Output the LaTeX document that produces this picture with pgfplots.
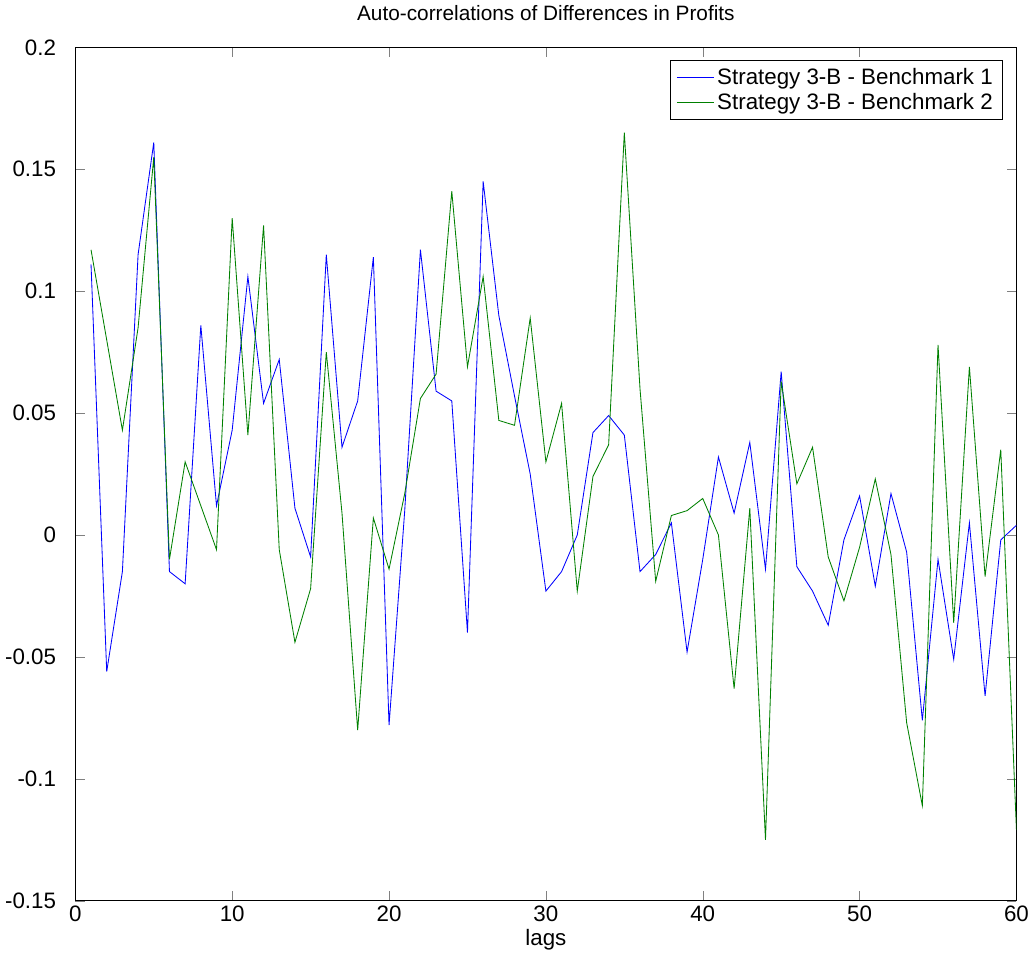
\documentclass[border=0pt]{standalone}
\usepackage{pgfplots}
\pgfplotsset{compat=1.18}
\usepackage{fontspec}
\setmainfont{Liberation Sans}
\begin{document}
\begin{tikzpicture}
\begin{axis}[scale only axis, width=611pt, height=554pt,
 xmin=0, xmax=60, ymin=-0.15, ymax=0.2,
 xtick={0,10,...,60}, ytick={-0.15,-0.1,...,0.2},
 yticklabels={-0.15,-0.1,-0.05,0,0.05,0.1,0.15,0.2},
 /pgf/number format/assume math mode=true,
 tick label style={font=\fontsize{14.5}{16}\selectfont},
 yticklabel style={xshift=-9pt},
 tick align=inside, ticklabel pos=left, xtick pos=both, ytick pos=both,
 major tick length=6pt,
 scaled y ticks=false,
 title={Auto-correlations of Differences in Profits},
 title style={font=\fontsize{13.5}{15}\selectfont, yshift=8pt},
 xlabel={lags}, xlabel style={font=\fontsize{14.5}{16}\selectfont, yshift=2pt},
 legend style={at={(0.985,0.985)}, anchor=north east, font=\fontsize{14.5}{16}\selectfont, draw=black, cells={anchor=west}, legend cell align=left, inner xsep=4pt, inner ysep=3pt},
 legend image post style={xscale=1.4},
 ]
\addplot[blue, line width=0.55pt] coordinates {
(1,0.111)(2,-0.056)(3,-0.015)(4,0.115)(5,0.161)(6,-0.015)(7,-0.020)(8,0.086)(9,0.012)(10,0.043)
(11,0.106)(12,0.054)(13,0.072)(14,0.011)(15,-0.009)(16,0.115)(17,0.036)(18,0.055)(19,0.114)(20,-0.078)
(21,0.010)(22,0.117)(23,0.059)(24,0.055)(25,-0.040)(26,0.145)(27,0.090)(28,0.057)(29,0.025)(30,-0.023)
(31,-0.015)(32,0.000)(33,0.042)(34,0.049)(35,0.041)(36,-0.015)(37,-0.008)(38,0.005)(39,-0.048)(40,-0.010)
(41,0.032)(42,0.009)(43,0.038)(44,-0.014)(45,0.067)(46,-0.013)(47,-0.023)(48,-0.037)(49,-0.002)(50,0.016)
(51,-0.021)(52,0.017)(53,-0.007)(54,-0.076)(55,-0.010)(56,-0.051)(57,0.005)(58,-0.066)(59,-0.002)(60,0.004)};
\addlegendentry{Strategy 3-B - Benchmark 1}
\addplot[color={rgb,255:red,0;green,128;blue,0}, line width=0.55pt] coordinates {
(1,0.117)(2,0.080)(3,0.043)(4,0.085)(5,0.155)(6,-0.010)(7,0.030)(8,0.012)(9,-0.006)(10,0.130)
(11,0.041)(12,0.127)(13,-0.006)(14,-0.044)(15,-0.022)(16,0.075)(17,0.009)(18,-0.080)(19,0.007)(20,-0.014)
(21,0.017)(22,0.056)(23,0.066)(24,0.141)(25,0.069)(26,0.106)(27,0.047)(28,0.045)(29,0.089)(30,0.030)
(31,0.054)(32,-0.023)(33,0.024)(34,0.037)(35,0.165)(36,0.060)(37,-0.019)(38,0.008)(39,0.010)(40,0.015)
(41,0.000)(42,-0.063)(43,0.011)(44,-0.125)(45,0.063)(46,0.021)(47,0.036)(48,-0.009)(49,-0.027)(50,-0.005)
(51,0.023)(52,-0.008)(53,-0.077)(54,-0.111)(55,0.078)(56,-0.036)(57,0.069)(58,-0.017)(59,0.035)(60,-0.121)};
\addlegendentry{Strategy 3-B - Benchmark 2}
\end{axis}
\end{tikzpicture}
\end{document}
